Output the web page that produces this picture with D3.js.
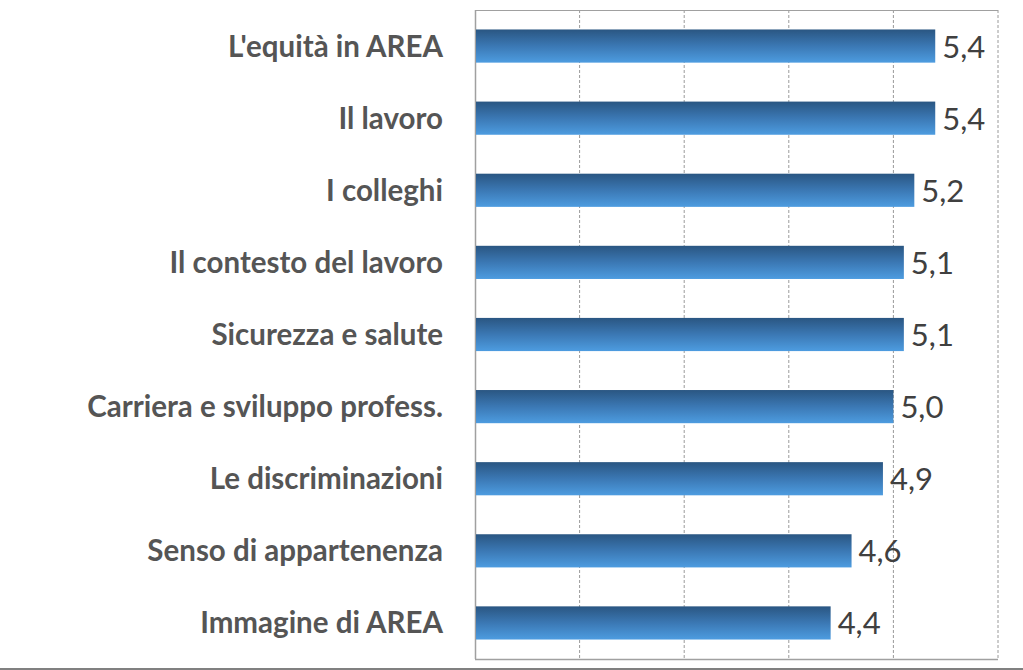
<!DOCTYPE html>
<html><head><meta charset="utf-8">
<script src="https://cdn.jsdelivr.net/npm/d3@7"></script>
<style>html,body{margin:0;padding:0;background:#fff;}svg{display:block;}</style>
</head><body>
<script>
const categories = ["L'equità in AREA","Il lavoro","I colleghi","Il contesto del lavoro","Sicurezza e salute","Carriera e sviluppo profess.","Le discriminazioni","Senso di appartenenza","Immagine di AREA"];
const values = [5.4,5.4,5.2,5.1,5.1,5.0,4.9,4.6,4.4];
const valueLabels = ["5,4","5,4","5,2","5,1","5,1","5,0","4,9","4,6","4,4"];
const gridTicks = [1,2,3,4,5,6];

const W = 1023, H = 670;
const m = {left:475, right:25, top:10, bottom:11};
const svg = d3.select("body").append("svg").attr("width",W).attr("height",H);

const defs = svg.append("defs");
const g0 = defs.append("linearGradient").attr("id","barGrad").attr("x1",0).attr("y1",0).attr("x2",0).attr("y2",1);
g0.append("stop").attr("offset","0%").attr("stop-color","#2a5682");
g0.append("stop").attr("offset","50%").attr("stop-color","#3b78b4");
g0.append("stop").attr("offset","100%").attr("stop-color","#4d9ce0");

const x = d3.scaleLinear().domain([1,6]).range([m.left, W - m.right]);
const y = d3.scaleBand().domain(categories).range([m.top, H - m.bottom]).paddingInner(0.54).paddingOuter(0.27);

// gridlines
svg.append("g").selectAll("line").data(gridTicks.slice(1)).join("line")
  .attr("x1",d=>x(d)).attr("x2",d=>x(d)).attr("y1",m.top).attr("y2",H-m.bottom)
  .attr("stroke","#9a9a9a").attr("stroke-width",1).attr("stroke-dasharray","3,2");

// frame top/left/bottom
svg.append("line").attr("x1",x(1)).attr("x2",x(6)).attr("y1",m.top+0.5).attr("y2",m.top+0.5).attr("stroke","#a0a0a0");
svg.append("line").attr("x1",x(6)).attr("x2",x(1)).attr("y1",H-m.bottom+0.5).attr("y2",H-m.bottom+0.5).attr("stroke","#a0a0a0").attr("stroke-width",1.5);
svg.append("line").attr("x1",x(1)+0.5).attr("x2",x(1)+0.5).attr("y1",m.top).attr("y2",H-m.bottom).attr("stroke","#a0a0a0").attr("stroke-width",1.5);

// bars
svg.append("g").selectAll("rect").data(values).join("rect")
  .attr("x",x(1)+1).attr("y",(d,i)=>y(categories[i]))
  .attr("width",d=>x(d)-x(1)-1).attr("height",y.bandwidth())
  .attr("fill","url(#barGrad)");

// value labels
svg.append("g").selectAll("text").data(values).join("text")
  .attr("x",d=>x(d)+7).attr("y",(d,i)=>y(categories[i])+y.bandwidth()/2+11.5)
  .attr("font-family","Lato, 'Open Sans', sans-serif").attr("font-size",31).attr("fill","#404040")
  .text((d,i)=>valueLabels[i]);

// category labels
svg.append("g").selectAll("text").data(categories).join("text")
  .attr("x",443).attr("y",d=>y(d)+y.bandwidth()/2+10.5)
  .attr("text-anchor","end")
  .attr("font-family","Lato, 'Open Sans', sans-serif").attr("font-weight","bold").attr("font-size",29.5).attr("fill","#555555")
  .text(d=>d);

// outer chart border bottom
svg.append("line").attr("x1",0).attr("x2",W).attr("y1",669).attr("y2",669).attr("stroke","#808080").attr("stroke-width",2);
</script>
</body></html>
